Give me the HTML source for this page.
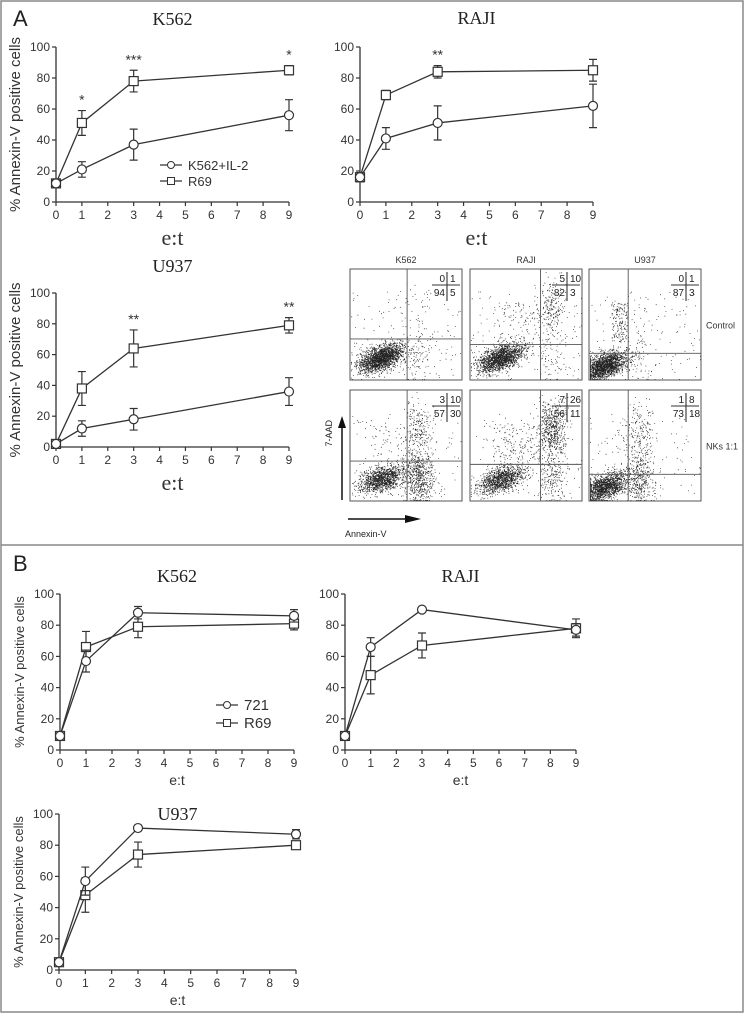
<!DOCTYPE html>
<html><head><meta charset="utf-8">
<style>
html,body{margin:0;padding:0;background:#fff;}
svg{display:block;font-family:"Liberation Sans",sans-serif;}
.ser{font-family:"Liberation Serif",serif;}
</style></head>
<body>
<svg id="fig" width="744" height="1013" viewBox="0 0 744 1013">
<rect x="1" y="1" width="742" height="1011" fill="#fff" stroke="#888" stroke-width="1.5"/>
<line x1="1" y1="545" x2="743" y2="545" stroke="#888" stroke-width="1.5"/>
<text x="13" y="26" font-size="22" fill="#222">A</text>
<text x="13" y="571" font-size="22" fill="#222">B</text>
<g id="charts"></g>
<g id="flow"></g>
</svg>
<script>
// ---- data ----
const xCats = [0,1,3,9];
const xTicks = [0,1,2,3,4,5,6,7,8,9];
const yTicks = [0,20,40,60,80,100];
// Panel A
const aK562Circle = [12,21,37,56];
const aK562CircleErr = [2,5,10,10];
const aK562Square = [12,51,78,85];
const aK562SquareErr = [2,8,7,3];
const aK562Stars = ['', '*', '***', '*'];
const aRajiCircle = [16,41,51,62];
const aRajiCircleErr = [3,7,11,14];
const aRajiSquare = [16,69,84,85];
const aRajiSquareErr = [3,3,4,7];
const aRajiStars = ['', '', '**', ''];
const aU937Circle = [2,12,18,36];
const aU937CircleErr = [1,5,7,9];
const aU937Square = [2,38,64,79];
const aU937SquareErr = [1,11,12,5];
const aU937Stars = ['', '', '**', '**'];
// Panel B
const bK562Circle = [9,57,88,86];
const bK562CircleErr = [1,7,4,4];
const bK562Square = [9,66,79,81];
const bK562SquareErr = [1,10,7,4];
const bRajiCircle = [9,66,90,77];
const bRajiCircleErr = [1,6,1,4];
const bRajiSquare = [9,48,67,78];
const bRajiSquareErr = [1,12,8,6];
const bU937Circle = [5,57,91,87];
const bU937CircleErr = [1,9,1,3];
const bU937Square = [5,48,74,80];
const bU937SquareErr = [1,11,8,2];

const NS='http://www.w3.org/2000/svg';
function mk(tag, attrs, parent){const e=document.createElementNS(NS,tag);for(const k in attrs)e.setAttribute(k,attrs[k]);parent.appendChild(e);return e;}

function chart(o){
  const g=mk('g',{},document.getElementById('charts'));
  
  
  const sx=v=>o.x0+(o.x9-o.x0)*v/9, sy=v=>o.y0-(o.y0-o.y100)*v/100;
  const col='#333';
  const t=mk('text',{x:(o.x0+o.x9)/2,y:o.titleY,'font-size':18,'text-anchor':'middle',class:'ser',fill:'#222'},g);
  t.textContent=o.title;
  
  
  const ax=mk('path',{d:`M${o.x0} ${o.y100}V${o.y0}H${o.x9}`,stroke:col,'stroke-width':1.3,fill:'none'},g);
  
  
  yTicks.forEach(v=>{
    mk('line',{x1:o.x0-4,x2:o.x0,y1:sy(v),y2:sy(v),stroke:col,'stroke-width':1.2},g);
    const l=mk('text',{x:o.x0-6,y:sy(v)+4,'font-size':12,'text-anchor':'end',fill:'#333'},g);
    l.textContent=v;
    
    
  });
  xTicks.forEach(v=>{
    mk('line',{x1:sx(v),x2:sx(v),y1:o.y0,y2:o.y0+4,stroke:col,'stroke-width':1.2},g);
    const l=mk('text',{x:sx(v),y:o.y0+17,'font-size':12,'text-anchor':'middle',fill:'#333'},g);
    l.textContent=v;
    
    
  });
  const xl=mk('text',{x:(o.x0+o.x9)/2,y:o.xlabY,'font-size':o.big?22:14,'text-anchor':'middle',fill:'#333',class:o.big?'ser':''},g);
  xl.textContent='e:t';
  
  
  if(o.ylab){
    const yc=(o.y0+o.y100)/2, yx=o.x0-36;
    const yl=mk('text',{x:yx,y:yc,'font-size':o.big?15:13,'text-anchor':'middle',fill:'#333',transform:`rotate(-90 ${yx} ${yc})`},g);
    yl.textContent=o.big?'%  Annexin-V positive cells':'% Annexin-V positive cells';
    
    
  }
  [[o.sq,o.sqe,'square'],[o.ci,o.cie,'circle']].forEach(([vals,errs,kind])=>{
    const s=mk('g',{},g);
    
    
    mk('polyline',{points:xCats.map((x,i)=>sx(x)+','+sy(vals[i])).join(' '),fill:'none',stroke:col,'stroke-width':1.3},s);
    xCats.forEach((x,i)=>{
      const px=sx(x),py=sy(vals[i]),hi=sy(vals[i]+errs[i]),lo=sy(vals[i]-errs[i]);
      const eb=mk('path',{d:`M${px} ${hi}V${lo}M${px-4} ${hi}H${px+4}M${px-4} ${lo}H${px+4}`,stroke:col,'stroke-width':1.2,fill:'none'},s);
      
      
      let m;
      if(kind==='square') m=mk('rect',{x:px-4.5,y:py-4.5,width:9,height:9,fill:'#fff',stroke:col,'stroke-width':1.2},s);
      else m=mk('circle',{cx:px,cy:py,r:4.5,fill:'#fff',stroke:col,'stroke-width':1.2},s);
      
      
    });
  });
  if(o.stars){
    o.stars.forEach((st,i)=>{
      if(!st)return;
      const top=Math.max(o.sq[i]+o.sqe[i],o.ci[i]+o.cie[i]);
      const s=mk('text',{x:sx(xCats[i]),y:sy(top)-6,'font-size':14,'text-anchor':'middle',fill:'#333'},g);
      s.textContent=st;
      
      
    });
  }
  if(o.legend){
    const [lx,ly,n1,n2]=o.legend;
    const lg=mk('g',{},g);
    
    
    [[n1,'circle'],[n2,'square']].forEach(([n,k],j)=>{
      const yy=ly+j*o.legGap;
      mk('line',{x1:lx,x2:lx+22,y1:yy,y2:yy,stroke:col,'stroke-width':1.2},lg);
      if(k==='circle')mk('circle',{cx:lx+11,cy:yy,r:3.5,fill:'#fff',stroke:col},lg);
      else mk('rect',{x:lx+7.5,y:yy-3.5,width:7,height:7,fill:'#fff',stroke:col},lg);
      const tt=mk('text',{x:lx+28,y:yy+5,'font-size':o.legFs,fill:'#333'},lg);
      tt.textContent=n;
      
      
    });
  }
}
chart({name:'chart-a-k562',title:'K562',titleY:25,x0:56,x9:289,y0:202,y100:47,xlabY:245,big:true,ylab:true,ci:aK562Circle,cie:aK562CircleErr,sq:aK562Square,sqe:aK562SquareErr,stars:aK562Stars,legend:[160,165,'K562+IL-2','R69'],legGap:16,legFs:13});
chart({name:'chart-a-raji',title:'RAJI',titleY:24,x0:360,x9:593,y0:202,y100:47,xlabY:245,big:true,ci:aRajiCircle,cie:aRajiCircleErr,sq:aRajiSquare,sqe:aRajiSquareErr,stars:aRajiStars});
chart({name:'chart-a-u937',title:'U937',titleY:272,x0:56,x9:289,y0:447,y100:293,xlabY:490,big:true,ylab:true,ci:aU937Circle,cie:aU937CircleErr,sq:aU937Square,sqe:aU937SquareErr,stars:aU937Stars});
chart({name:'chart-b-k562',title:'K562',titleY:582,x0:60,x9:294,y0:750,y100:594,xlabY:785,ylab:true,ci:bK562Circle,cie:bK562CircleErr,sq:bK562Square,sqe:bK562SquareErr,legend:[216,705,'721','R69'],legGap:18,legFs:15});
chart({name:'chart-b-raji',title:'RAJI',titleY:582,x0:345,x9:576,y0:750,y100:594,xlabY:785,ci:bRajiCircle,cie:bRajiCircleErr,sq:bRajiSquare,sqe:bRajiSquareErr});
chart({name:'chart-b-u937',title:'U937',titleY:820,x0:59,x9:296,y0:970,y100:814,xlabY:1005,ylab:true,ci:bU937Circle,cie:bU937CircleErr,sq:bU937Square,sqe:bU937SquareErr});

// ---- flow cytometry panels ----
const flowCols = ['K562','RAJI','U937'];
const flowRows = ['Control','NKs 1:1'];
const flowQuads = [[[0,1,94,5],[5,10,82,3],[0,1,87,3]],[[3,10,57,30],[7,26,56,11],[1,8,73,18]]];
const flowGateX = [0.51,0.63,0.35];
const flowGateY = [[0.63,0.68,0.76],[0.64,0.67,0.76]];
(function(){
  const F=document.getElementById('flow');
  let seed=7;const rnd=()=>{seed=(seed*16807)%2147483647;return seed/2147483647;};
  const gau=()=>{let s=0;for(let i=0;i<6;i++)s+=rnd();return (s-3)/0.707;};
  const colX=[350,470,589],rowY=[269,390],W=112,H=111;
  flowCols.forEach((c,ci)=>{
    const t=mk('text',{x:colX[ci]+W/2,y:263,'font-size':9,'text-anchor':'middle',fill:'#333'},F);
    t.textContent=c;
    
    
  });
  flowRows.forEach((r,ri)=>{
    const t=mk('text',{x:706,y:rowY[ri]+H/2+4,'font-size':9,fill:'#333'},F);
    t.textContent=r;
    
    
    flowCols.forEach((c,ci)=>{
      const x=colX[ci],y=rowY[ri];
      const g=mk('g',{},F);
      
      
      const q=flowQuads[ri][ci];
      const gx=x+W*flowGateX[ci], gy=y+H*flowGateY[ri][ci];
      let pts='';
      const N=2200;
      const cx0=x+W*(ci===2?0.14:0.28), cy0=y+H*(ci===2?0.87:0.8);
      for(let i=0;i<N;i++){
        let px,py;
        const u=rnd()*100;
        if(u<q[2]){const a=gau(),b=gau();px=cx0+a*W*0.1;py=cy0+b*H*0.055-a*H*0.03;}
        else if(u<q[2]+q[3]){px=gx+W*0.1+gau()*W*0.07;py=y+H*0.78+gau()*H*0.12;}
        else if(u<q[2]+q[3]+q[1]){px=gx+W*0.1+gau()*W*0.06;py=y+H*0.35+gau()*H*0.12;}
        else{px=x+W*0.2+rnd()*(gx-x-W*0.2);py=y+H*(0.3+rnd()*0.35);}
        if(rnd()<0.05){px=x+rnd()*W;py=y+H*(0.2+rnd()*0.8);}
        px=Math.min(x+W-1,Math.max(x+1,px));py=Math.min(y+H-1,Math.max(y+1,py));
        pts+=`M${px.toFixed(1)} ${py.toFixed(1)}h0.8v0.8h-0.8z`;
      }
      mk('path',{d:pts,fill:'#222'},g);
      mk('rect',{x:x,y:y,width:W,height:H,fill:'none',stroke:'#555','stroke-width':1},g);
      mk('path',{d:`M${gx} ${y}V${y+H}M${x} ${gy}H${x+W}`,stroke:'#555','stroke-width':0.9,fill:'none'},g);
      const qx=x+W-15,qy=y+13;
      mk('path',{d:`M${qx} ${y+3}V${y+32}M${qx-15} ${qy+3}H${x+W-2}`,stroke:'#333','stroke-width':1.1},g);
      [[q[0],qx-2,qy,'end'],[q[1],qx+3,qy,'start'],[q[2],qx-2,qy+14,'end'],[q[3],qx+3,qy+14,'start']].forEach(([v,tx,ty,a])=>{
        const tt=mk('text',{x:tx,y:ty,'font-size':10,'text-anchor':a,fill:'#222'},g);
        tt.textContent=v;
        
        
      });
    });
  });
  mk('path',{d:'M342 500V425',stroke:'#111','stroke-width':1.5},F);
  mk('path',{d:'M338 428L342 416L346 428Z',fill:'#111'},F);
  const y7=mk('text',{x:332,y:420,'font-size':9,fill:'#222',transform:'rotate(-90 332 420)','text-anchor':'end'},F);
  y7.textContent='7-AAD';
  
  
  mk('path',{d:'M348 519H410',stroke:'#111','stroke-width':1.5},F);
  mk('path',{d:'M405 515L421 519L405 523Z',fill:'#111'},F);
  const ax=mk('text',{x:345,y:537,'font-size':9,fill:'#222'},F);
  ax.textContent='Annexin-V';
  
  
})();
</script>
</body></html>
